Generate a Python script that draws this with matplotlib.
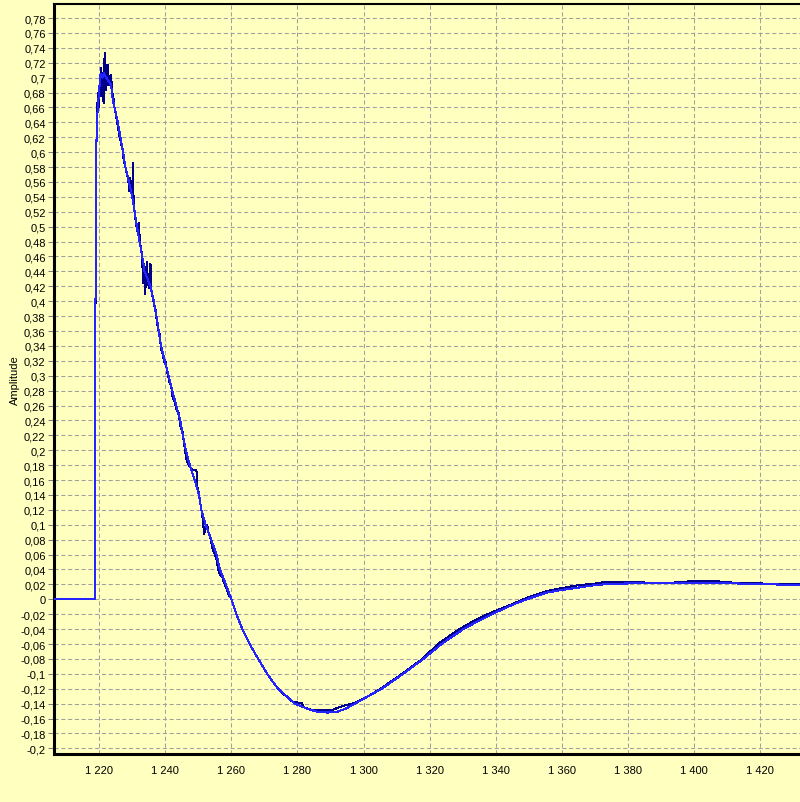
import numpy as np
import matplotlib
matplotlib.use("Agg")
import matplotlib.pyplot as plt
from matplotlib.ticker import FixedLocator, FuncFormatter

# smooth (bright blue) trace
blue_x = [1206.3, 1218.8, 1218.8, 1219.0, 1219.1, 1219.3, 1219.6, 1219.8, 1220.1, 1220.4,
          1220.9, 1221.4, 1222.1, 1222.7, 1223.6, 1224.1, 1224.9, 1225.6, 1226.2, 1227.2,
          1227.9, 1229.0, 1230.0, 1230.7, 1231.4, 1232.2, 1233.0, 1233.7, 1234.6, 1235.5,
          1236.5, 1237.3, 1238.0, 1238.7, 1239.8, 1241.0, 1242.1, 1243.3, 1244.5, 1245.3,
          1246.2, 1247.4, 1248.9, 1250.2, 1250.9, 1252.2, 1253.9, 1255.5, 1256.5, 1258.3,
          1260.0, 1261.5, 1263.3, 1265.5, 1268.1, 1270.8, 1274.1, 1279.2, 1283.0, 1286.0,
          1289.0, 1292.0, 1294.5, 1297.4, 1301.0, 1305.5, 1312.0, 1318.1, 1323.6, 1330.2,
          1335.2, 1339.3, 1345.3, 1350.0, 1355.5, 1360.0, 1365.5, 1370.0, 1375.6, 1385.8,
          1392.0, 1399.9, 1407.0, 1415.0, 1424.0, 1432.1]
blue_y = [0.0, 0.0, 0.40, 0.41, 0.60, 0.65, 0.655, 0.675, 0.69, 0.705,
          0.70, 0.706, 0.70, 0.696, 0.69, 0.67, 0.655, 0.64, 0.625, 0.60,
          0.58, 0.56, 0.54, 0.52, 0.50, 0.48, 0.46, 0.44, 0.43, 0.42,
          0.40, 0.38, 0.36, 0.34, 0.32, 0.30, 0.28, 0.26, 0.24, 0.22,
          0.20, 0.18, 0.16, 0.14, 0.12, 0.10, 0.08, 0.06, 0.04, 0.02,
          0.0, -0.02, -0.04, -0.06, -0.08, -0.10, -0.12, -0.14, -0.147, -0.151,
          -0.152, -0.151, -0.147, -0.14, -0.131, -0.12, -0.10, -0.08, -0.06, -0.04,
          -0.028, -0.019, -0.007, 0.001, 0.009, 0.0125, 0.016, 0.019, 0.021, 0.0215,
          0.022, 0.022, 0.022, 0.021, 0.020, 0.019]

# noisy (navy) trace
navy_x = [1206.3, 1218.8, 1218.8, 1218.9, 1219.1, 1219.3, 1219.6, 1219.9, 1220.1, 1220.4,
          1220.6, 1220.9, 1221.1, 1221.3, 1221.5, 1221.7, 1221.9, 1222.1, 1222.3, 1222.5,
          1222.8, 1223.1, 1223.4, 1223.6, 1223.9, 1224.3, 1224.6, 1225.0, 1225.4, 1225.8,
          1226.2, 1226.6, 1227.0, 1227.4, 1227.9, 1228.4, 1228.8, 1229.1, 1229.4, 1229.7,
          1230.0, 1230.2, 1230.4, 1230.8, 1231.3, 1231.7, 1232.0, 1232.3, 1232.7, 1233.0,
          1233.3, 1233.6, 1233.9, 1234.2, 1234.4, 1234.7, 1235.0, 1235.3, 1235.5, 1235.8,
          1236.2, 1236.6, 1237.0, 1237.5, 1238.0, 1238.3, 1238.7, 1239.2, 1239.6, 1240.0,
          1240.6, 1241.2, 1241.8, 1242.2, 1242.8, 1243.4, 1244.0, 1244.6, 1245.2, 1245.8,
          1246.3, 1246.8, 1247.4, 1247.9, 1248.2, 1249.4, 1249.7, 1250.1, 1250.6, 1251.1,
          1251.5, 1251.7, 1252.2, 1252.7, 1253.0, 1253.6, 1254.2, 1254.8, 1255.5, 1256.0,
          1256.6, 1257.3, 1257.8, 1258.4, 1259.0, 1260.0, 1261.5, 1263.3, 1265.5, 1268.1,
          1270.8, 1274.1, 1277.5, 1278.7, 1281.2, 1282.0, 1284.0, 1290.8, 1292.0, 1294.6,
          1297.4, 1301.0, 1305.5, 1312.0, 1318.1, 1322.5, 1329.0, 1333.0, 1337.5, 1345.3,
          1350.0, 1355.5, 1360.0, 1365.0, 1370.0, 1373.6, 1384.7, 1385.0, 1392.8, 1400.0,
          1407.5, 1408.0, 1415.0, 1422.0, 1432.1]
navy_y = [0.0, 0.0, 0.38, 0.41, 0.60, 0.65, 0.68, 0.66, 0.69, 0.675,
          0.713, 0.685, 0.70, 0.666, 0.72, 0.733, 0.70, 0.684, 0.70, 0.717,
          0.69, 0.702, 0.69, 0.703, 0.68, 0.672, 0.66, 0.652, 0.64, 0.63,
          0.62, 0.612, 0.605, 0.59, 0.58, 0.57, 0.562, 0.548, 0.565, 0.55,
          0.545, 0.586, 0.53, 0.515, 0.50, 0.49, 0.505, 0.478, 0.47, 0.455,
          0.425, 0.45, 0.41, 0.44, 0.452, 0.43, 0.418, 0.44, 0.45, 0.415,
          0.405, 0.395, 0.39, 0.37, 0.36, 0.355, 0.335, 0.33, 0.318, 0.32,
          0.305, 0.292, 0.285, 0.272, 0.265, 0.255, 0.25, 0.232, 0.225, 0.205,
          0.19, 0.182, 0.178, 0.175, 0.174, 0.174, 0.150, 0.143, 0.128, 0.115,
          0.10, 0.087, 0.095, 0.10, 0.09, 0.083, 0.07, 0.062, 0.054, 0.04,
          0.032, 0.029, 0.022, 0.016, 0.008, 0.0, -0.02, -0.04, -0.06, -0.08,
          -0.10, -0.12, -0.134, -0.138, -0.139, -0.145, -0.148, -0.148, -0.146, -0.142,
          -0.139, -0.131, -0.119, -0.099, -0.079, -0.06, -0.04, -0.03, -0.02, -0.006,
          0.003, 0.011, 0.015, 0.019, 0.021, 0.0237, 0.0237, 0.022, 0.022, 0.0245,
          0.0245, 0.023, 0.022, 0.021, 0.020]

xtick_values = [1220, 1240, 1260, 1280, 1300, 1320, 1340, 1360, 1380, 1400, 1420]
xtick_labels = ["1 220", "1 240", "1 260", "1 280", "1 300", "1 320", "1 340",
                "1 360", "1 380", "1 400", "1 420"]
ytick_values = np.round(np.arange(-0.20, 0.781, 0.02), 2)
y_label = "Amplitude"

bg = "#ffffc0"
plt.rcParams["font.family"] = ["Liberation Sans", "DejaVu Sans"]

fig = plt.figure(figsize=(8.0, 8.03), dpi=100, facecolor=bg)
ax = fig.add_axes([54 / 800, 1 - 755.3 / 803, 1 - 54 / 800, (755.3 - 5.3) / 803])
ax.set_facecolor(bg)

ax.plot(navy_x, navy_y, color="#000088", lw=0.75, antialiased=False, zorder=3)
ax.plot(blue_x, blue_y, color="#2424ff", lw=0.75, antialiased=False, zorder=4)

ax.set_xlim(1206.3, 1432.1)
ax.set_ylim(-0.208, 0.7984)

ax.xaxis.set_major_locator(FixedLocator(xtick_values))
ax.set_xticklabels(xtick_labels)
ax.yaxis.set_major_locator(FixedLocator(ytick_values))
ax.yaxis.set_major_formatter(FuncFormatter(lambda v, p: f"{round(v, 2) + 0.0:g}".replace(".", ",")))

ax.grid(True, color="#a0a0a0", lw=0.75, linestyle=(0, (4, 2.5)), zorder=1)
ax.tick_params(axis="y", length=4, width=0.75, color="#808080", pad=2, labelsize=8)
ax.tick_params(axis="x", length=0, pad=8, labelsize=8)

for side in ["left", "bottom"]:
    ax.spines[side].set_linewidth(2.2)
    ax.spines[side].set_color("black")
ax.spines["top"].set_linewidth(1.5)
ax.spines["right"].set_visible(False)

fig.text(15 / 800, 1 - 380 / 803, y_label, rotation=90, ha="center", va="center", fontsize=8)

fig.savefig("out.png", dpi=100, facecolor=bg)
